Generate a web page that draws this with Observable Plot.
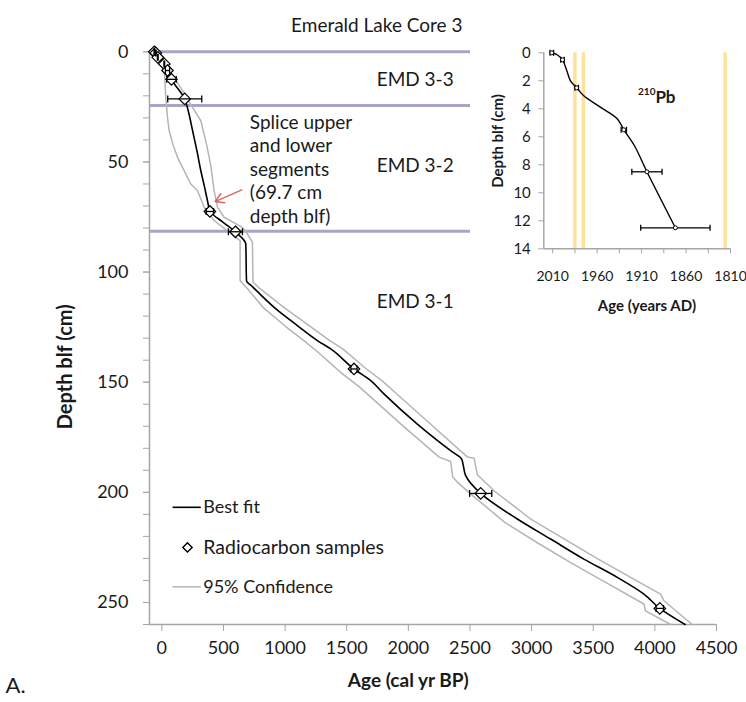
<!DOCTYPE html>
<html><head><meta charset="utf-8">
<script src="https://cdn.jsdelivr.net/npm/d3@7"></script>
<script src="https://cdn.jsdelivr.net/npm/@observablehq/plot@0.6"></script>
<style>
body{margin:0;background:#fff;}
#wrap{position:relative;width:746px;height:702px;overflow:hidden;background:#fff;}
#main{position:absolute;left:0;top:0;}
#inset{position:absolute;left:470px;top:42px;}
svg{overflow:visible;display:block}
</style></head><body><div id="wrap"><div id="main"></div><div id="inset"></div></div>
<script>
// ---------- main chart data (age cal yr BP, depth cm) ----------
const bestFit = [[-61,0],[-49,0.5],[-33,2.5],[20,5.5],[46,8.5],[78,12.5],[186,21.4],[215,27],[249,35.7],[285,45],[316,53.9],[345,61],[370,67.5],[392,72.5],[500,77.5],[600,81.9],[681,87.2],[687,103.9],[735,106.6],[911,116],[1100,124.3],[1262,131.1],[1370,134.9],[1559,144],[1695,149.3],[1802,155.3],[2073,169],[2343,181.1],[2433,184.9],[2446,187.9],[2465,192.4],[2587,200.5],[2884,212.1],[3154,221.2],[3424,230.3],[3695,238.6],[3911,246.2],[4040,252.7],[4245,260]];
const confLower = [[-61,0],[-45,1],[-5,4],[19,7],[32,20.6],[46,29.7],[59,35.7],[90,42],[127,47.9],[154,50.9],[235,60],[289,63],[343,70.6],[424,76.6],[546,81.9],[635,85.7],[635,103.9],[695,107.6],[830,116.5],[1000,124.5],[1160,131.5],[1270,136.5],[1460,146],[1600,152],[1700,157],[1970,170.5],[2250,184],[2343,186],[2360,193],[2400,195.5],[2490,200],[2780,213.5],[3050,223],[3320,232],[3590,240.5],[3911,250.7],[3924,253.8],[4127,260]];
const confUpper = [[-61,0],[-30,1],[46,7],[168,17.6],[249,25.2],[316,31.2],[365,42.6],[397,51.6],[424,63],[452,70.6],[505,75.1],[654,79.7],[695,82.7],[735,86.5],[740,104.6],[789,107.2],[990,116],[1200,124.5],[1360,131],[1470,135],[1660,144],[1790,149.5],[1900,155],[2170,168.5],[2480,184],[2533,184.5],[2560,192],[2700,199.5],[2990,212],[3260,221],[3530,230],[3800,238.5],[4046,246.2],[4073,249.2],[4303,260]];
const sampleAge   = [-61,-49,-33,20,46,78,186,390,597,1559,2587,4040];
const sampleDepth = [0,0.5,2.5,5.5,8.5,12.5,21.4,72.5,81.7,144,200.5,252.7];
const sampleErr   = [2,2,3,3,17,39,138,30,57,25,90,30];
const zoneDepths = [0,24.4,81.5];
const zoneLabels = ["EMD 3-3","EMD 3-2","EMD 3-1"];
const zoneLabelDepths = [12.6,51.6,113.4];
const zoneLabelAge = 1743;
const spliceText = "Splice upper\nand lower\nsegments\n(69.7 cm\ndepth blf)";
const spliceTextPos = {age:714, depth:52.9};
const spliceArrow = {x1:649, y1:62.7, x2:432, y2:68};
const xTicks = [0,500,1000,1500,2000,2500,3000,3500,4000,4500];
const yTicks = [0,50,100,150,200,250];
const yMinorTicks = d3.range(0,261,10);
const legendItems = ["Best fit","Radiocarbon samples","95% Confidence"];
const legendDepths = [206.8,225,242.9];
const legendLine = {x1:87, x2:316};
const legendDiamondAge = 208;
const legendTextAge = 336;

// ---------- inset data (years AD, depth cm) ----------
const pbLine = [[2011,0],[2005,0.14],[1999,0.5],[1994,1.3],[1990,2.0],[1983,2.5],[1975,3.07],[1956,3.9],[1937,4.74],[1930,5.5],[1918,6.64],[1904,8.5],[1872,12.5]];
const pbYear  = [2011,1999,1983,1930,1904,1872];
const pbDepth = [0,0.5,2.5,5.5,8.5,12.5];
const pbErr   = [2,2,2,3,17,39];
const markerYears = [1985,1975.5,1816];
const insetXTicks = [2010,1960,1910,1860,1810];
const insetXMinor = [1985,1935,1885,1835];
const insetYTicks = [0,2,4,6,8,10,12,14];

const samples = sampleAge.map((a,i)=>({age:a, depth:sampleDepth[i], err:sampleErr[i]}));
const pb = pbYear.map((y,i)=>({year:y, depth:pbDepth[i], err:pbErr[i]}));
const capSymbol = {draw(ctx, size){ const h = Math.sqrt(size)/2; ctx.moveTo(0,-h); ctx.lineTo(0,h); }};
const AX = "#a6a6a6";
const TXT = "#1a1a1a";

const main = Plot.plot({
  width:746, height:702,
  marginLeft:149, marginRight:30, marginTop:51.3, marginBottom:78,
  x:{domain:[-100,4500]},
  y:{domain:[0,260], reverse:true},
  style:{fontFamily:"Lato, sans-serif", fontSize:"18px", color:TXT, background:"white", overflow:"visible"},
  marks:[
    Plot.ruleY(zoneDepths, {y:d=>d, x1:-100, x2:4557, stroke:"#aaa3c6", strokeWidth:3}),
    Plot.ruleX([-100], {stroke:AX, strokeWidth:1.5}),
    Plot.ruleY([260], {stroke:AX, strokeWidth:1.5}),
    Plot.axisX({ticks:xTicks, tickSize:7, tickPadding:10, tickFormat:d=>String(d), stroke:AX, fill:TXT, label:null}),
    Plot.axisY({ticks:yMinorTicks, tickSize:6, tickFormat:()=>"", stroke:AX, label:null}),
    Plot.axisY({ticks:yTicks, tickSize:6, tickPadding:15, tickFormat:d=>String(d), stroke:AX, fill:TXT, label:null}),
    Plot.line(confLower, {x:d=>d[0], y:d=>d[1], stroke:"#b5b5b5", strokeWidth:1.5}),
    Plot.line(confUpper, {x:d=>d[0], y:d=>d[1], stroke:"#b5b5b5", strokeWidth:1.5}),
    Plot.line(bestFit, {x:d=>d[0], y:d=>d[1], curve:"monotone-y", stroke:"black", strokeWidth:1.6}),
    Plot.dot(samples, {x:"age", y:"depth", symbol:"diamond2", r:5.2, fill:"white", stroke:"black", strokeWidth:1.2}),
    Plot.link(samples, {x1:d=>d.age-d.err, x2:d=>d.age+d.err, y1:"depth", y2:"depth", stroke:"black", strokeWidth:1.3}),
    Plot.dot(samples, {x:d=>d.age-d.err, y:"depth", symbol:capSymbol, r:3.9, stroke:"black", strokeWidth:1.3}),
    Plot.dot(samples, {x:d=>d.age+d.err, y:"depth", symbol:capSymbol, r:3.9, stroke:"black", strokeWidth:1.3}),
    Plot.text(zoneLabels, {x:zoneLabelAge, y:(d,i)=>zoneLabelDepths[i], text:d=>d, textAnchor:"start", fontSize:19, fill:TXT}),
    Plot.text([spliceText], {x:spliceTextPos.age, y:spliceTextPos.depth, text:d=>d, textAnchor:"start", fontSize:19, lineHeight:1.23, fill:TXT}),
    Plot.arrow([spliceArrow], {x1:"x1", y1:"y1", x2:"x2", y2:"y2", stroke:"#d7675c", strokeWidth:1.5, headLength:10}),
    // legend
    Plot.link([legendDepths[0]], {x1:legendLine.x1, x2:legendLine.x2, y1:d=>d, y2:d=>d, stroke:"black", strokeWidth:1.6}),
    Plot.dot([legendDepths[1]], {x:legendDiamondAge, y:d=>d, symbol:"diamond2", r:4.2, fill:"white", stroke:"black", strokeWidth:1.4}),
    Plot.link([legendDepths[2]], {x1:legendLine.x1, x2:legendLine.x2, y1:d=>d, y2:d=>d, stroke:"#b5b5b5", strokeWidth:1.5}),
    Plot.text(legendItems, {x:legendTextAge, y:(d,i)=>legendDepths[i], text:d=>d, textAnchor:"start",
      fontSize:(d,i)=>i===1?19.5:18, fontFamily:(d,i)=>i===1?"Liberation Sans, Arial, sans-serif":"Lato, sans-serif", fill:TXT}),
    // axis titles, chart title
    Plot.text(["Age (cal yr BP)"], {x:2000, frameAnchor:"bottom", dy:62, fontWeight:"bold", fontSize:19, fill:TXT}),
    Plot.text(["Depth blf (cm)"], {frameAnchor:"left", y:143, dx:-84, rotate:-90, textAnchor:"middle", fontWeight:"bold", fontSize:20, fill:TXT}),
    Plot.text(["Emerald Lake Core 3"], {x:1744, frameAnchor:"top", dy:-33, fontSize:19, fill:TXT}),
    Plot.text(["A."], {frameAnchor:"bottom-left", dx:-144, dy:68, textAnchor:"start", fontSize:22, fill:TXT})
  ]
});
document.getElementById("main").appendChild(main);

const inset = Plot.plot({
  width:276, height:288,
  marginLeft:73.3, marginRight:16, marginTop:10.3, marginBottom:81.7,
  x:{domain:[2020,1810]},
  y:{domain:[0,14], reverse:true},
  style:{fontFamily:"Lato, sans-serif", fontSize:"14px", color:TXT, background:"white", overflow:"visible"},
  marks:[
    Plot.ruleX(markerYears, {stroke:"#fde39a", strokeWidth:3.5}),
    Plot.ruleX([2020], {stroke:AX, strokeWidth:1.5}),
    Plot.ruleY([14], {stroke:AX, strokeWidth:1.5}),
    Plot.axisX({ticks:insetXMinor, tickSize:5, tickFormat:()=>"", stroke:AX, label:null}),
    Plot.axisX({ticks:insetXTicks, tickSize:5, tickPadding:17, tickFormat:d=>String(d), stroke:AX, fill:TXT, label:null}),
    Plot.axisY({ticks:insetYTicks, tickSize:5, tickPadding:8, stroke:AX, fill:TXT, fontSize:15, label:null}),
    Plot.line(pbLine, {x:d=>d[0], y:d=>d[1], curve:"catmull-rom", stroke:"black", strokeWidth:1.4}),
    Plot.link(pb, {x1:d=>d.year-d.err, x2:d=>d.year+d.err, y1:"depth", y2:"depth", stroke:"black", strokeWidth:1.3}),
    Plot.dot(pb, {x:d=>d.year-d.err, y:"depth", symbol:capSymbol, r:3.4, stroke:"black", strokeWidth:1.3}),
    Plot.dot(pb, {x:d=>d.year+d.err, y:"depth", symbol:capSymbol, r:3.4, stroke:"black", strokeWidth:1.3}),
    Plot.dot(pb, {x:"year", y:"depth", r:2, fill:"white", stroke:"black", strokeWidth:1}),
    Plot.text(["210"], {x:1914, y:2.8, text:d=>d, textAnchor:"start", fontSize:10, fontWeight:"bold", fill:TXT}),
    Plot.text(["Pb"], {x:1894.5, y:3.2, text:d=>d, textAnchor:"start", fontSize:17, fontWeight:"bold", fill:TXT}),
    Plot.text(["Age (years AD)"], {x:1904, frameAnchor:"bottom", dy:62, fontWeight:"bold", fontSize:15, fill:TXT}),
    Plot.text(["Depth blf (cm)"], {frameAnchor:"left", y:6.3, dx:-46, rotate:-90, textAnchor:"middle", fontWeight:"bold", fontSize:15, fill:TXT})
  ]
});
document.getElementById("inset").appendChild(inset);
</script>
</body></html>
